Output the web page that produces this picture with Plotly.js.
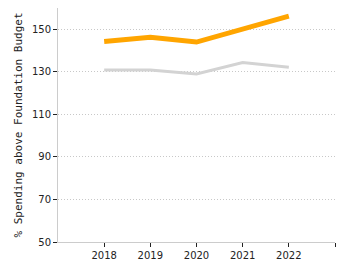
<!DOCTYPE html>
<html>
<head>
<meta charset="utf-8">
<script src="https://cdn.plot.ly/plotly-3.0.1.min.js"></script>
<style>
  html, body { margin: 0; padding: 0; background: #fff; }
  #chart { width: 350px; height: 275px; }
</style>
</head>
<body>
<div id="chart"></div>
<script>
// School years shown on the x axis
const years = [2018, 2019, 2020, 2021, 2022];
// Spending above the foundation budget, in percent
const districtSpending = [144.2, 146.2, 144.0, 150.0, 156.2];
const comparisonSpending = [130.8, 130.9, 129.0, 134.4, 132.1];
// Tick labels (the last tick closes the axis and carries no label)
const xTickVals = [2018, 2019, 2020, 2021, 2022, 2023];
const xTickText = ['2018', '2019', '2020', '2021', '2022', ''];
const yTickVals = [50, 70, 90, 110, 130, 150];

const traces = [
  {
    x: years, y: comparisonSpending, type: 'scatter', mode: 'lines',
    line: { color: '#d3d3d3', width: 3 }, hoverinfo: 'skip'
  },
  {
    x: years, y: districtSpending, type: 'scatter', mode: 'lines',
    line: { color: '#ffa500', width: 5 }, hoverinfo: 'skip'
  }
];

const layout = {
  width: 350, height: 275,
  margin: { l: 58, r: 15, t: 8, b: 33 },
  paper_bgcolor: '#fff', plot_bgcolor: '#fff',
  showlegend: false,
  font: { family: 'DejaVu Sans, Verdana, sans-serif', size: 10, color: '#222' },
  xaxis: {
    range: [2017, 2023],
    tickvals: xTickVals, ticktext: xTickText,
    showgrid: false, zeroline: false,
    showline: true, linecolor: '#cccccc', linewidth: 1,
    ticks: 'outside', ticklen: 4, tickcolor: '#222', tickwidth: 1,
    tickfont: { size: 10, color: '#222' }
  },
  yaxis: {
    range: [50, 160],
    tickvals: yTickVals,
    showgrid: true, gridcolor: '#c8c8c8', griddash: '1px,2px', gridwidth: 1,
    zeroline: false,
    showline: true, linecolor: '#cccccc', linewidth: 1,
    ticks: 'outside', ticklen: 4, tickcolor: '#222', tickwidth: 1,
    tickfont: { size: 10, color: '#222' },
    title: {
      text: '% Spending above Foundation Budget',
      font: { family: 'DejaVu Sans Mono, monospace', size: 11, color: '#222' },
      standoff: 7
    }
  }
};

Plotly.newPlot('chart', traces, layout, { staticPlot: true, displayModeBar: false });
</script>
</body>
</html>
